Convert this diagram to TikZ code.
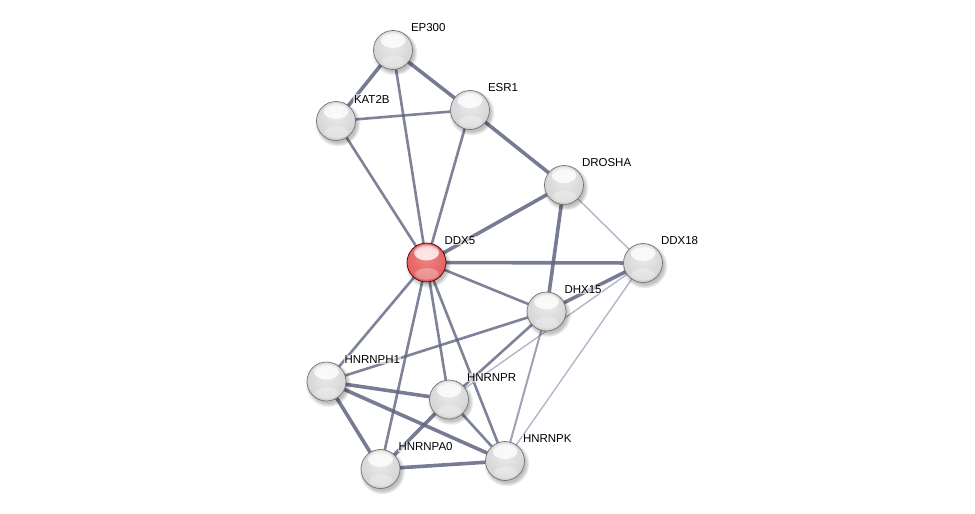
\documentclass[tikz,border=0pt]{standalone}
\usepackage{fontspec}
\setmainfont{Liberation Sans}
\usetikzlibrary{calc,fadings}
\pgfdeclarelayer{edges}
\pgfdeclarelayer{shadows}
\pgfsetlayers{edges,shadows,main}
\pgfdeclareradialshading{spheregray}{\pgfpoint{0bp}{8bp}}{%
  color(0bp)=(gray!16);
  color(22bp)=(gray!30);
  color(40bp)=(gray!44);
  color(52bp)=(gray!60);
  color(58bp)=(gray!72);
  color(70bp)=(gray!80)}
\pgfdeclareradialshading{spherered}{\pgfpoint{0bp}{8bp}}{%
  color(0bp)=(red!45!white!95!black);
  color(22bp)=(red!55!white!90!black);
  color(40bp)=(red!60!white!80!black);
  color(52bp)=(red!60!white!65!black);
  color(58bp)=(red!60!white!50!black);
  color(70bp)=(red!60!white!45!black)}
\definecolor{edgecol}{HTML}{5F6480}
\definecolor{lightcol}{HTML}{A9AEC2}
\tikzset{
  gloss/.style={path picture={
    \fill[white, fill opacity=0.8, path fading=circle with fuzzy edge 20 percent]
      ($(path picture bounding box.center)+(0,-10)$) ellipse [x radius=12.5pt, y radius=8pt];
    \fill[white, fill opacity=0.3, path fading=circle with fuzzy edge 20 percent]
      ($(path picture bounding box.center)+(0,11)$) ellipse [x radius=13pt, y radius=6.5pt];
  }},
  prot/.style={circle, minimum size=39pt, inner sep=0pt, draw=black!55, line width=0.7pt, shading=spheregray, gloss},
  protred/.style={prot, draw=red!30!black, shading=spherered},
  lab/.style={anchor=west, font=\fontsize{11.5}{13}\selectfont, text=black, fill=white, fill opacity=0.6, text opacity=1, inner sep=0.8pt},
  ethick/.style={draw=edgecol, line width=3.6pt, opacity=0.85},
  emed/.style={draw=edgecol, line width=2.6pt, opacity=0.8},
  elow/.style={draw=edgecol, line width=2pt, opacity=0.6},
  elight/.style={draw=lightcol, line width=1.4pt, opacity=0.9},
}
\begin{document}
\begin{tikzpicture}[x=1pt,y=-1pt]
\useasboundingbox (0,0) rectangle (975,514);
% nodes
\node[prot] (EP300) at (393,50) {};
\node[prot] (KAT2B) at (336,121) {};
\node[prot] (ESR1) at (470,110) {};
\node[prot] (DROSHA) at (564,185) {};
\node[protred] (DDX5) at (426.5,262.5) {};
\node[prot] (DDX18) at (643,263) {};
\node[prot] (DHX15) at (546.5,311.5) {};
\node[prot] (HNRNPH1) at (326.5,381.5) {};
\node[prot] (HNRNPR) at (449,399.5) {};
\node[prot] (HNRNPA0) at (380.5,469) {};
\node[prot] (HNRNPK) at (505,461) {};
% shadows
\begin{pgfonlayer}{shadows}
\foreach \n in {EP300,KAT2B,ESR1,DROSHA,DDX5,DDX18,DHX15,HNRNPH1,HNRNPR,HNRNPA0,HNRNPK}{
  \fill[black, fill opacity=0.25, path fading=circle with fuzzy edge 20 percent] ($(\n.center)+(1.5,2.5)$) circle (23pt);
}
\end{pgfonlayer}
% edges
\begin{pgfonlayer}{edges}
\draw[ethick] (EP300.center) -- (KAT2B.center);
\draw[ethick] (EP300.center) -- (ESR1.center);
\draw[emed] (EP300.center) -- (DDX5.center);
\draw[emed] (KAT2B.center) -- (ESR1.center);
\draw[emed] (KAT2B.center) -- (DDX5.center);
\draw[emed] (ESR1.center) -- (DDX5.center);
\draw[ethick] (ESR1.center) -- (DROSHA.center);
\draw[ethick] (DROSHA.center) -- (DDX5.center);
\draw[ethick] (DROSHA.center) -- (DHX15.center);
\draw[elight] (DROSHA.center) -- (DDX18.center);
\draw[ethick] (DDX5.center) -- (DDX18.center);
\draw[emed] (DDX5.center) -- (DHX15.center);
\draw[emed] (DDX5.center) -- (HNRNPH1.center);
\draw[emed] (DDX5.center) -- (HNRNPR.center);
\draw[emed] (DDX5.center) -- (HNRNPA0.center);
\draw[emed] (DDX5.center) -- (HNRNPK.center);
\draw[ethick] (DDX18.center) -- (DHX15.center);
\draw[elight] (DDX18.center) -- (HNRNPR.center);
\draw[elight] (DDX18.center) -- (HNRNPK.center);
\draw[emed] (DHX15.center) -- (HNRNPH1.center);
\draw[emed] (DHX15.center) -- (HNRNPR.center);
\draw[elow] (DHX15.center) -- (HNRNPK.center);
\draw[ethick] (HNRNPH1.center) -- (HNRNPR.center);
\draw[ethick] (HNRNPH1.center) -- (HNRNPA0.center);
\draw[ethick] (HNRNPH1.center) -- (HNRNPK.center);
\draw[ethick] (HNRNPR.center) -- (HNRNPA0.center);
\draw[emed] (HNRNPR.center) -- (HNRNPK.center);
\draw[ethick] (HNRNPA0.center) -- (HNRNPK.center);
\end{pgfonlayer}
% labels
\foreach \n in {EP300,KAT2B,ESR1,DROSHA,DDX5,DDX18,DHX15,HNRNPH1,HNRNPR,HNRNPA0,HNRNPK}{
  \node[lab] (\n lab) at ($(\n.center)+(17,-22)$) {\n};
}
\end{tikzpicture}
\end{document}
